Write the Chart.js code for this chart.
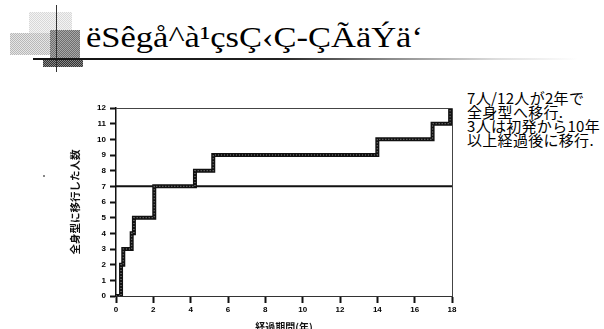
<!DOCTYPE html>
<html>
<head>
<meta charset="utf-8">
<script src="https://cdn.jsdelivr.net/npm/chart.js@4"></script>
<style>
html,body{margin:0;padding:0;background:#fff;width:604px;height:329px;overflow:hidden;}
#wrap{position:relative;width:604px;height:329px;overflow:hidden;}
canvas{position:absolute;left:0;top:0;}
.deco{position:absolute;}
#title{position:absolute;left:86px;top:20px;font-family:"Liberation Serif","DejaVu Serif",serif;font-size:30px;line-height:34px;color:#000;white-space:nowrap;transform:scaleX(1.15);transform-origin:0 0;}
#note{position:absolute;left:467px;top:91px;font-family:"Noto Sans CJK JP","Noto Sans",sans-serif;font-size:15px;line-height:14px;color:#000;white-space:nowrap;letter-spacing:0.3px;}
</style>
</head>
<body>
<div id="wrap">
  <div class="deco" style="left:29px;top:12px;width:43px;height:23px;background:repeating-conic-gradient(#d8d8d8 0 25%,#f4f4f4 0 50%) 0 0/2px 2px;"></div>
  <div class="deco" style="left:10px;top:33px;width:70px;height:22px;background:repeating-conic-gradient(#b8b8b8 0 25%,#e6e6e6 0 50%) 0 0/2px 2px;"></div>
  <div class="deco" style="left:50px;top:30px;width:30px;height:28px;background:repeating-conic-gradient(#6e6e6e 0 25%,#a8a8a8 0 50%) 0 0/2px 2px;"></div>
  <div class="deco" style="left:43px;top:59px;width:40px;height:8px;background:repeating-conic-gradient(#333 0 25%,#888 0 50%) 0 0/2px 2px;"></div>
  <div class="deco" style="left:56px;top:5px;width:1px;height:67px;background:#333;"></div>
  <div class="deco" style="left:33px;top:58px;width:545px;height:2px;background:linear-gradient(to right,#111 0%,#222 45%,#888 65%,#ddd 85%,#fff 100%);"></div>
  <div class="deco" style="left:43px;top:175px;width:2px;height:2px;background:#888;"></div>
  <div id="title">ëSêgå^à¹çsÇ‹Ç-ÇÃäÝä‘</div>
  <div id="note">7人/12人が2年で<br>全身型へ移行.<br>3人は初発から10年<br>以上経過後に移行.</div>
  <canvas id="c" width="604" height="340"></canvas>
</div>
<script>
const yearsToTransition = [0, 0.27, 0.39, 0.84, 0.96, 2.05, 4.23, 5.21, 14.0, 16.96, 17.9, 18];
const cumulativeCount  = [0, 2, 3, 4, 5, 7, 8, 9, 10, 11, 12, 12];
const referenceX = [0, 18];
const referenceY = [7, 7];
const xTicks = [0, 2, 4, 6, 8, 10, 12, 14, 16, 18];
const yTicks = [0, 1, 2, 3, 4, 5, 6, 7, 8, 9, 10, 11, 12];
const yTitle = "全身型に移行した人数";
const xTitle = "経過期間(年)";

const stepPts = yearsToTransition.map((x, i) => ({x: x, y: cumulativeCount[i]}));
const refPts = referenceX.map((x, i) => ({x: x, y: referenceY[i]}));

const boxPlugin = {
  id: 'box',
  afterDatasetsDraw(chart) {
    const a = chart.chartArea, ctx = chart.ctx;
    ctx.save();
    ctx.strokeStyle = '#444';
    ctx.lineWidth = 1;
    ctx.beginPath();
    ctx.moveTo(a.left, a.top + 0.5);
    ctx.lineTo(a.right + 0.5, a.top + 0.5);
    ctx.lineTo(a.right + 0.5, a.bottom);
    ctx.stroke();
    ctx.restore();
  }
};

const tickFont = {family: "Liberation Sans, Arial, sans-serif", size: 8, weight: 'bold'};

new Chart(document.getElementById('c'), {
  type: 'line',
  data: {
    datasets: [
      {data: refPts, borderColor: '#111', borderWidth: 2, pointRadius: 0, fill: false, order: 2},
      {data: stepPts, stepped: true, borderColor: '#111', borderWidth: 4, pointRadius: 0, fill: false, order: 1},
      {data: stepPts, stepped: true, borderColor: 'rgba(150,150,150,0.85)', borderWidth: 1.2, borderDash: [1, 2], pointRadius: 0, fill: false, order: 0}
    ]
  },
  options: {
    responsive: false,
    animation: false,
    events: [],
    layout: {padding: {left: 60, right: 152, top: 108, bottom: 0}},
    plugins: {legend: {display: false}, tooltip: {enabled: false}},
    scales: {
      x: {
        type: 'linear', min: 0, max: 18,
        afterFit: s => { s.height = 44; },
        afterBuildTicks: s => { s.ticks = xTicks.map(v => ({value: v})); },
        grid: {drawOnChartArea: false, drawTicks: true, tickLength: 7, tickWidth: 2, tickColor: '#111'},
        border: {display: true, color: '#333', width: 1},
        ticks: {color: '#000', font: tickFont, padding: 2, maxRotation: 0},
        title: {display: true, text: xTitle, color: '#111', font: {family: "Noto Sans CJK JP, sans-serif", size: 10, weight: 'bold'}, padding: {top: 0, bottom: 7}}
      },
      y: {
        type: 'linear', min: 0, max: 12,
        afterFit: s => { s.width = 56; },
        afterBuildTicks: s => { s.ticks = yTicks.map(v => ({value: v})); },
        grid: {drawOnChartArea: false, drawTicks: true, tickLength: 6, tickWidth: 2, tickColor: '#111'},
        border: {display: true, color: '#111', width: 1.5},
        ticks: {color: '#000', font: tickFont, padding: 4},
        title: {display: true, text: yTitle, color: '#111', font: {family: "Noto Sans CJK JP, sans-serif", size: 10.5, weight: 'bold'}, padding: {top: 9, bottom: 0}}
      }
    }
  },
  plugins: [boxPlugin]
});
</script>
</body>
</html>
